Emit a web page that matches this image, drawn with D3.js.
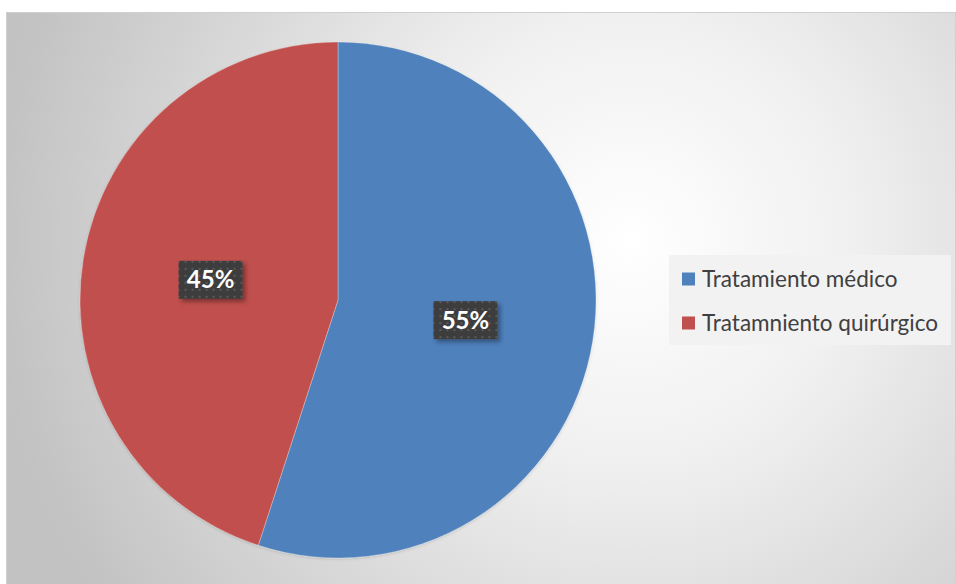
<!DOCTYPE html>
<html>
<head>
<meta charset="utf-8">
<script src="https://cdn.jsdelivr.net/npm/d3@7"></script>
<style>
  html, body { margin: 0; padding: 0; background: #ffffff; }
  svg { display: block; }
</style>
</head>
<body>
<svg id="chart" width="956" height="584"></svg>
<script>
// Share of patients by type of treatment
const categories = ["Tratamiento médico", "Tratamniento quirúrgico"];
const values = [55, 45];
const valueLabels = ["55%", "45%"];
const colors = ["#4F81BD", "#C0504D"];

const svg = d3.select("#chart");
const W = 956, H = 584;
const defs = svg.append("defs");

// Background: radial light centred to the right of the pie
const bg = defs.append("radialGradient")
  .attr("id", "bgGrad")
  .attr("gradientUnits", "userSpaceOnUse")
  .attr("cx", 630).attr("cy", 240).attr("r", 640);
bg.append("stop").attr("offset", "0%").attr("stop-color", "#ffffff");
bg.append("stop").attr("offset", "35%").attr("stop-color", "#f0f0f0");
bg.append("stop").attr("offset", "100%").attr("stop-color", "#c2c2c2");

// Dotted fill used behind the data labels
const pat = defs.append("pattern")
  .attr("id", "dots")
  .attr("patternUnits", "userSpaceOnUse")
  .attr("width", 7).attr("height", 7);
pat.append("rect").attr("width", 7).attr("height", 7).attr("fill", "#3d3d3d");
pat.append("rect").attr("x", 2).attr("y", 2).attr("width", 2).attr("height", 2).attr("fill", "#5a5a5a");

const shadow = defs.append("filter").attr("id", "lblShadow")
  .attr("x", "-20%").attr("y", "-20%").attr("width", "150%").attr("height", "160%");
shadow.append("feDropShadow").attr("dx", 3).attr("dy", 3).attr("stdDeviation", 2)
  .attr("flood-color", "#000").attr("flood-opacity", 0.35);

const pieShadow = defs.append("filter").attr("id", "pieShadow")
  .attr("x", "-10%").attr("y", "-10%").attr("width", "120%").attr("height", "120%");
pieShadow.append("feDropShadow").attr("dx", 0).attr("dy", 1).attr("stdDeviation", 1.5)
  .attr("flood-color", "#000").attr("flood-opacity", 0.15);

// Chart area
svg.append("rect")
  .attr("x", 6.5).attr("y", 12.5).attr("width", W - 7).attr("height", H - 12)
  .attr("fill", "url(#bgGrad)")
  .attr("stroke", "#d0d0d0").attr("stroke-width", 1);

// Pie
const cx = 338, cy = 300, radius = 258;
const pie = d3.pie().sort(null).value(d => d)(values);
const arc = d3.arc().innerRadius(0).outerRadius(radius);

const g = svg.append("g").attr("transform", `translate(${cx},${cy})`);
g.append("g").attr("filter", "url(#pieShadow)")
  .selectAll("path")
  .data(pie)
  .join("path")
  .attr("d", arc)
  .attr("fill", (d, i) => colors[i])
  .attr("stroke", "rgba(255,255,255,0.35)")
  .attr("stroke-width", 0.8);

// Data labels
const lbl = g.selectAll("g.lbl")
  .data(pie)
  .join("g")
  .attr("class", "lbl")
  .attr("transform", d => {
    const [x, y] = arc.centroid(d);
    return `translate(${x},${y})`;
  });
lbl.append("rect")
  .attr("x", -32).attr("y", -19).attr("width", 64).attr("height", 38)
  .attr("fill", "url(#dots)")
  .attr("filter", "url(#lblShadow)");
lbl.append("text")
  .attr("text-anchor", "middle")
  .attr("dy", "0.36em")
  .attr("fill", "#ffffff")
  .attr("font-family", "Lato, 'Open Sans', sans-serif")
  .attr("font-weight", "bold")
  .attr("font-size", 24)
  .text((d, i) => valueLabels[i]);

// Legend
const legend = svg.append("g");
legend.append("rect")
  .attr("x", 669).attr("y", 255).attr("width", 282).attr("height", 90)
  .attr("fill", "#f2f2f2");
const item = legend.selectAll("g.item")
  .data(categories)
  .join("g")
  .attr("class", "item")
  .attr("transform", (d, i) => `translate(682,${279 + i * 44})`);
item.append("rect")
  .attr("x", 0).attr("y", -6.5).attr("width", 13).attr("height", 13)
  .attr("fill", (d, i) => colors[i]);
item.append("text")
  .attr("x", 20).attr("dy", "0.35em")
  .attr("fill", "#404040")
  .attr("font-family", "Lato, 'Open Sans', sans-serif")
  .attr("font-size", 22.5)
  .text(d => d);
</script>
</body>
</html>
